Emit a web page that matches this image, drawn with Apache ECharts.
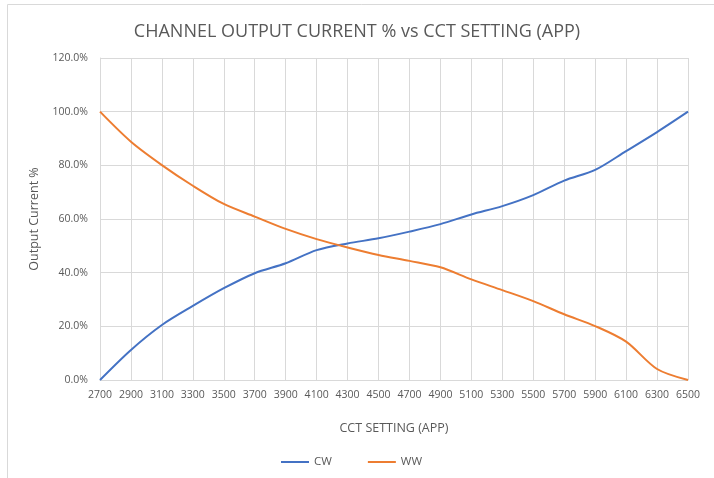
<!DOCTYPE html>
<html><head><meta charset="utf-8">
<script src="https://cdn.jsdelivr.net/npm/echarts@6/dist/echarts.min.js"></script>
<style>html,body{margin:0;padding:0;background:#fff}#c{width:714px;height:478px}</style>
</head><body><div id="c"></div>
<script>
const categories = ['2700','2900','3100','3300','3500','3700','3900','4100','4300','4500','4700','4900','5100','5300','5500','5700','5900','6100','6300','6500'];
const cw = [0, 11.2, 20.5, 27.6, 34.2, 39.8, 43.5, 48.4, 50.9, 52.8, 55.3, 58.1, 61.7, 64.8, 68.9, 74.3, 78.3, 85.3, 92.4, 100];
const ww = [100, 88.8, 80.1, 72.4, 65.6, 60.9, 56.3, 52.5, 49.4, 46.6, 44.4, 42.0, 37.5, 33.5, 29.4, 24.5, 20.1, 14.3, 4.1, 0];
const yTicks = [0, 20, 40, 60, 80, 100, 120];
const gray = '#595959';
const font = 'Open Sans';
const chart = echarts.init(document.getElementById('c'));
chart.setOption({
  animation: false,
  textStyle: {fontFamily: font},
  graphic: [{type: 'rect', shape: {x: 7.5, y: 4.5, width: 720, height: 490}, style: {fill: 'none', stroke: '#d9d9d9', lineWidth: 1}, silent: true, z: -1}],
  title: {text: 'CHANNEL OUTPUT CURRENT % vs CCT SETTING (APP)', left: 'center', top: 18,
    textStyle: {fontFamily: font, fontSize: 18, fontWeight: 'normal', color: gray}},
  legend: {bottom: 5, left: 276, itemWidth: 28, itemHeight: 2, itemGap: 36, icon: 'rect',
    textStyle: {fontFamily: font, fontSize: 11.5, color: gray}, data: ['CW', 'WW']},
  grid: {left: 100, right: 26, top: 58, bottom: 98, containLabel: false},
  xAxis: {type: 'category', data: categories, boundaryGap: false,
    name: 'CCT SETTING (APP)', nameLocation: 'middle', nameGap: 42,
    nameTextStyle: {fontFamily: font, fontSize: 12.5, color: gray},
    axisLine: {lineStyle: {color: '#d9d9d9'}}, axisTick: {show: false},
    axisLabel: {color: gray, fontSize: 10.5, fontFamily: font, interval: 0, margin: 10},
    splitLine: {show: true, lineStyle: {color: '#d9d9d9'}}},
  yAxis: {type: 'value', min: 0, max: 120, interval: 20,
    name: 'Output Current %', nameLocation: 'middle', nameGap: 59,
    nameTextStyle: {fontFamily: font, fontSize: 12.5, color: gray},
    axisLine: {show: true, lineStyle: {color: '#d9d9d9'}}, axisTick: {show: false},
    axisLabel: {color: gray, fontSize: 10.5, fontFamily: font, margin: 12,
      formatter: v => yTicks.includes(v) ? v.toFixed(1) + '%' : ''},
    splitLine: {lineStyle: {color: '#d9d9d9'}}},
  series: [
    {name: 'CW', type: 'line', data: cw, smooth: 0.3, showSymbol: false, lineStyle: {color: '#4472c4', width: 2}, itemStyle: {color: '#4472c4'}},
    {name: 'WW', type: 'line', data: ww, smooth: 0.3, showSymbol: false, lineStyle: {color: '#ed7d31', width: 2}, itemStyle: {color: '#ed7d31'}}
  ]
});
</script></body></html>
